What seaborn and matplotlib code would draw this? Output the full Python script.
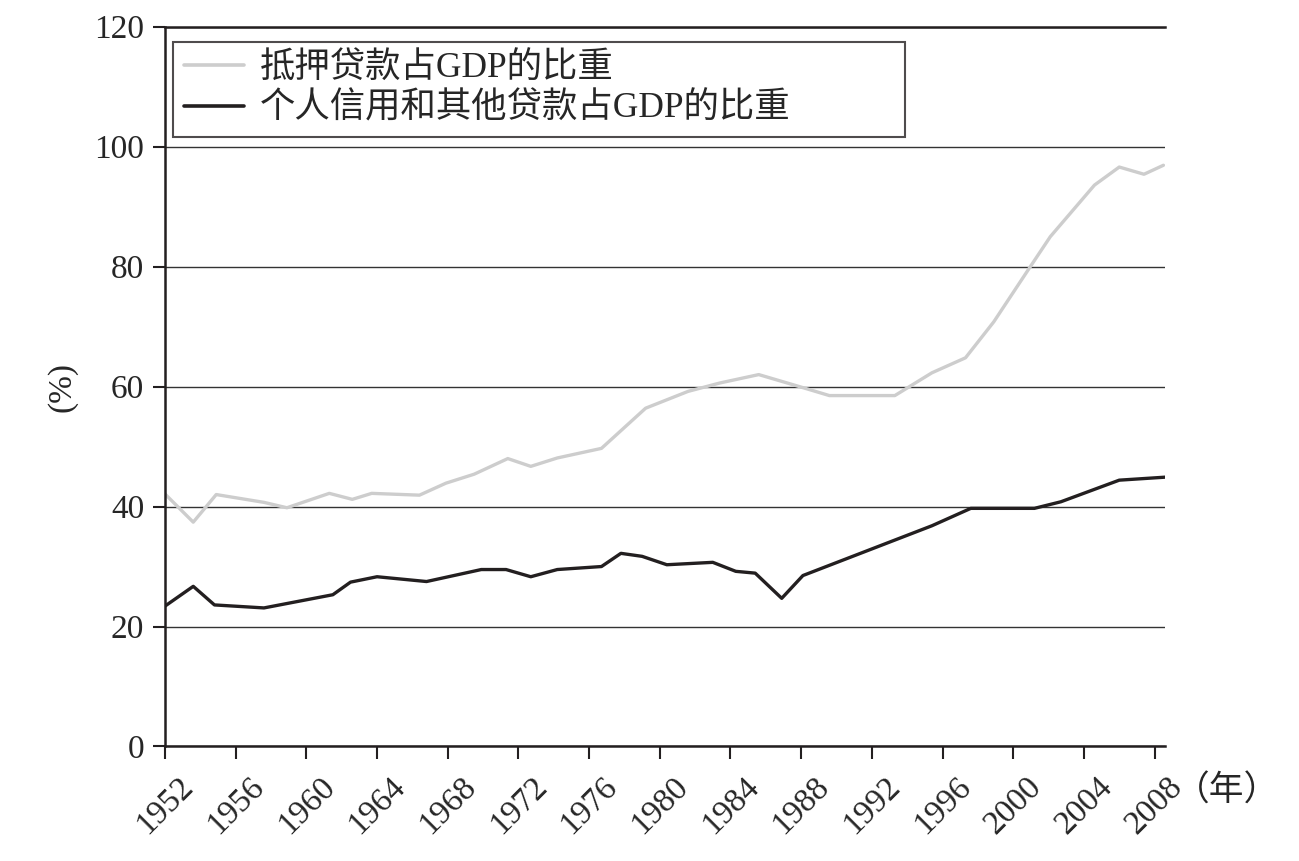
import pandas as pd
import matplotlib
matplotlib.use("Agg")
import matplotlib.pyplot as plt
import seaborn as sns

# data (years are fractional, points are roughly every 1.4 years)
mort_years = [1952.0, 1953.6, 1954.9, 1957.6, 1958.9, 1961.3, 1962.6, 1963.7, 1966.4,
              1967.9, 1969.5, 1971.4, 1972.7, 1974.2, 1976.7, 1979.2, 1981.6, 1983.4,
              1985.6, 1987.9, 1989.6, 1993.3, 1995.4, 1997.3, 1998.9, 2000.9, 2002.1,
              2004.6, 2006.0, 2007.4, 2008.5]
mort_share = [42.1, 37.4, 42.0, 40.7, 39.8, 42.2, 41.2, 42.2, 41.9,
              43.9, 45.4, 48.0, 46.7, 48.1, 49.7, 56.4, 59.2, 60.6,
              62.0, 60.0, 58.5, 58.5, 62.3, 64.8, 70.8, 79.7, 85.0,
              93.6, 96.6, 95.4, 96.9]

cons_years = [1952.0, 1953.6, 1954.8, 1957.6, 1961.5, 1962.5, 1964.0, 1966.8, 1969.9,
              1971.3, 1972.7, 1974.2, 1976.7, 1977.8, 1979.0, 1980.4, 1983.0, 1984.3,
              1985.4, 1986.9, 1988.1, 1995.4, 1997.6, 2001.2, 2002.7, 2006.0, 2008.6]
cons_share = [23.4, 26.7, 23.6, 23.1, 25.3, 27.4, 28.3, 27.5, 29.5,
              29.5, 28.3, 29.5, 30.0, 32.2, 31.7, 30.3, 30.7, 29.2,
              28.9, 24.7, 28.5, 36.8, 39.7, 39.7, 40.8, 44.4, 44.9]

label_mort = "抵押贷款占GDP的比重"
label_cons = "个人信用和其他贷款占GDP的比重"
tick_years = list(range(1952, 2009, 4))
y_ticks = [0, 20, 40, 60, 80, 100, 120]

df = pd.concat([
    pd.DataFrame({"year": mort_years, "share": mort_share, "series": label_mort}),
    pd.DataFrame({"year": cons_years, "share": cons_share, "series": label_cons}),
])

sns.set_style("white")
fam = ["Liberation Serif", "Noto Sans CJK SC"]
plt.rcParams["font.family"] = fam

fig = plt.figure(figsize=(12.99, 8.61), dpi=100)
ax = fig.add_axes([0.127, 0.133, 0.770, 0.836])

sns.lineplot(data=df, x="year", y="share", hue="series",
             palette={label_mort: "#cdcdcd", label_cons: "#231f20"},
             linewidth=2.4, ax=ax)

ax.set_xlim(1952, 2008.6)
ax.set_ylim(0, 120)
ax.set_xticks(tick_years)
ax.set_xticklabels([str(y) for y in tick_years], rotation=45, ha="center",
                   fontsize=24)
ax.set_yticks(y_ticks)
ax.set_yticklabels([str(v) for v in y_ticks], fontsize=24)
# seaborn's white style switches the tick marks off
ax.tick_params(axis="both", bottom=True, left=True, direction="out", length=9,
               width=1.5, color="#231f20", pad=6)
ax.tick_params(axis="x", pad=9)

ax.yaxis.grid(True, color="#333333", linewidth=1.0)
ax.set_axisbelow(True)
for side in ["left", "bottom", "top"]:
    ax.spines[side].set_color("#231f20")
    ax.spines[side].set_linewidth(1.8)
ax.spines["right"].set_visible(False)

ax.set_xlabel("")
ax.set_ylabel("(%)", fontsize=24, labelpad=12)
ax.text(1.062, -0.062, "（年）", transform=ax.transAxes, fontsize=25,
        ha="center", va="center", family=["Noto Sans CJK SC", "DejaVu Sans"])

leg = ax.legend(loc="upper left", bbox_to_anchor=(0.008, 0.0, 0.732, 0.979),
                mode="expand", borderaxespad=0,
                fontsize=25.5, frameon=True, fancybox=False, handlelength=1.7,
                handletextpad=0.45, borderpad=0.3, labelspacing=0.2)
leg.get_frame().set_edgecolor("#231f20")
leg.get_frame().set_linewidth(1.5)
for line in leg.get_lines():
    line.set_linewidth(2.6)

fig.savefig("out.png", dpi=100)
